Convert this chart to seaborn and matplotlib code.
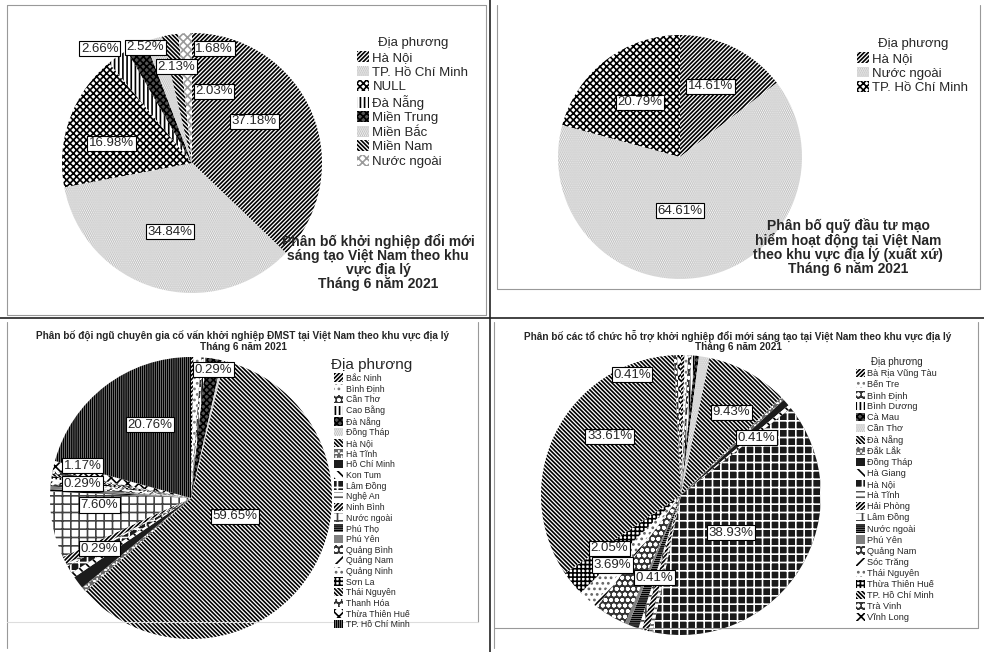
import matplotlib
matplotlib.use("Agg")
import matplotlib.pyplot as plt
import seaborn as sns
from matplotlib.patches import Patch
from matplotlib.lines import Line2D

# ---------------- data ----------------
c1_regions = ["Hà Nội", "TP. Hồ Chí Minh", "NULL", "Đà Nẵng", "Miền Trung",
              "Miền Bắc", "Miền Nam", "Nước ngoài"]
c1_values = [37.18, 34.84, 16.98, 2.66, 2.52, 2.13, 2.03, 1.68]
c1_title = "Phân bố khởi nghiệp đổi mới\nsáng tạo Việt Nam theo khu\nvực địa lý\nTháng 6 năm 2021"

c2_regions = ["Hà Nội", "Nước ngoài", "TP. Hồ Chí Minh"]
c2_values = [14.61, 64.61, 20.79]
c2_title = "Phân bố quỹ đầu tư mạo\nhiểm hoạt động tại Việt Nam\ntheo khu vực địa lý (xuất xứ)\nTháng 6 năm 2021"

c3_regions = ["Bắc Ninh", "Bình Định", "Cần Thơ", "Cao Bằng", "Đà Nẵng", "Đồng Tháp",
              "Hà Nội", "Hà Tĩnh", "Hồ Chí Minh", "Kon Tum", "Lâm Đồng", "Nghệ An",
              "Ninh Bình", "Nước ngoài", "Phú Thọ", "Phú Yên", "Quảng Bình", "Quảng Nam",
              "Quảng Ninh", "Sơn La", "Thái Nguyên", "Thanh Hóa", "Thừa Thiên Huế",
              "TP. Hồ Chí Minh"]
c3_values = [0.29, 0.88, 0.29, 0.29, 1.75, 0.29,
             59.65, 0.58, 1.46, 0.58, 0.88, 0.29,
             0.88, 7.60, 0.29, 0.29, 0.29, 0.29,
             0.29, 0.29, 0.29, 0.29, 1.17,
             20.76]
c3_title = "Phân bố đội ngũ chuyên gia cố vấn khởi nghiệp ĐMST tại Việt Nam theo khu vực địa lý\nTháng 6 năm 2021"

c4_regions = ["Bà Rịa Vũng Tàu", "Bến Tre", "Bình Định", "Bình Dương", "Cà Mau", "Cần Thơ",
              "Đà Nẵng", "Đắk Lắk", "Đồng Tháp", "Hà Giang", "Hà Nội", "Hà Tĩnh",
              "Hải Phòng", "Lâm Đồng", "Nước ngoài", "Phú Yên", "Quảng Nam", "Sóc Trăng",
              "Thái Nguyên", "Thừa Thiên Huế", "TP. Hồ Chí Minh", "Trà Vinh", "Vĩnh Long"]
c4_values = [0.41, 0.41, 0.41, 0.41, 0.41, 1.23,
             9.43, 0.41, 0.82, 0.41, 38.93, 0.41,
             0.82, 0.41, 1.23, 0.41, 3.69, 0.41,
             2.05, 2.87, 33.61, 0.41, 0.41]
c4_title = "Phân bố các tổ chức hỗ trợ khởi nghiệp đổi mới sáng tạo tại Việt Nam theo khu vực địa lý\nTháng 6 năm 2021"

legend_title = "Địa phương"

# ---------------- style ----------------
sns.set_theme(style="white")
plt.rcParams['font.family'] = ['Liberation Sans', 'DejaVu Sans']
plt.rcParams['hatch.linewidth'] = 1.2

W, H = 984, 652
fig = plt.figure(figsize=(W / 100, H / 100), dpi=100)
fig.patch.set_facecolor("white")

P = {
    'ddiag_f': ('white', 'black', '/' * 8),
    'ddiag_b': ('white', 'black', '\\' * 8),
    'dots_sparse': ('white', '#777777', '...'),
    'dots_light': ('white', '#b8b8b8', '.' * 8),
    'vlines': ('white', 'black', '|' * 4),
    'vlines_dense': ('white', 'black', '|' * 8),
    'checker': ('white', 'black', 'x' * 5),
    'checker_dark': ('#555555', 'black', 'x' * 5),
    'sparkle': ('white', '#9a9a9a', 'xxxx'),
    'stars': ('white', '#666666', '***'),
    'solid_dark': ('#1c1c1c', '#1c1c1c', ''),
    'solid_gray': ('#808080', '#808080', ''),
    'back_sparse': ('white', 'black', '\\\\\\'),
    'grid_dark': ('#1a1a1a', 'white', '++'),
    'hlines': ('white', '#555555', '---'),
    'hlines_dense': ('white', 'black', '-' * 8),
    'plus_sparse': ('white', '#444444', '++'),
    'fwd_sparse': ('white', 'black', '///'),
    'circles_dark': ('#333333', 'white', 'ooo'),
    'grid': ('white', 'black', '++++'),
    'xx': ('white', 'black', 'xxx'),
    'hdots': ('white', '#666666', '...'),
}

s1 = {"Hà Nội": 'ddiag_f', "TP. Hồ Chí Minh": 'dots_light', "NULL": 'checker',
      "Đà Nẵng": 'vlines', "Miền Trung": 'checker_dark', "Miền Bắc": 'dots_light',
      "Miền Nam": 'ddiag_b', "Nước ngoài": 'sparkle'}
s2 = {"Hà Nội": 'ddiag_f', "Nước ngoài": 'dots_light', "TP. Hồ Chí Minh": 'checker'}
s3 = {"Bắc Ninh": 'ddiag_f', "Bình Định": 'dots_sparse', "Cần Thơ": 'circles_dark',
      "Cao Bằng": 'vlines', "Đà Nẵng": 'checker_dark', "Đồng Tháp": 'dots_light',
      "Hà Nội": 'ddiag_b', "Hà Tĩnh": 'stars', "Hồ Chí Minh": 'solid_dark',
      "Kon Tum": 'back_sparse', "Lâm Đồng": 'grid_dark', "Nghệ An": 'hlines',
      "Ninh Bình": 'ddiag_f', "Nước ngoài": 'plus_sparse', "Phú Thọ": 'hlines_dense',
      "Phú Yên": 'solid_gray', "Quảng Bình": 'circles_dark', "Quảng Nam": 'fwd_sparse',
      "Quảng Ninh": 'hdots', "Sơn La": 'grid', "Thái Nguyên": 'ddiag_b',
      "Thanh Hóa": 'circles_dark', "Thừa Thiên Huế": 'xx', "TP. Hồ Chí Minh": 'vlines_dense'}
s4 = {"Bà Rịa Vũng Tàu": 'ddiag_f', "Bến Tre": 'dots_sparse', "Bình Định": 'circles_dark',
      "Bình Dương": 'vlines', "Cà Mau": 'checker_dark', "Cần Thơ": 'dots_light',
      "Đà Nẵng": 'ddiag_b', "Đắk Lắk": 'stars', "Đồng Tháp": 'solid_dark',
      "Hà Giang": 'back_sparse', "Hà Nội": 'grid_dark', "Hà Tĩnh": 'hlines',
      "Hải Phòng": 'ddiag_f', "Lâm Đồng": 'plus_sparse', "Nước ngoài": 'hlines_dense',
      "Phú Yên": 'solid_gray', "Quảng Nam": 'circles_dark', "Sóc Trăng": 'fwd_sparse',
      "Thái Nguyên": 'hdots', "Thừa Thiên Huế": 'grid', "TP. Hồ Chí Minh": 'ddiag_b',
      "Trà Vinh": 'circles_dark', "Vĩnh Long": 'xx'}

# label placements (pie units)
lp1 = {"Hà Nội": (0.48, 0.32), "TP. Hồ Chí Minh": (-0.17, -0.53), "NULL": (-0.62, 0.15),
       "Đà Nẵng": (-0.71, 0.88), "Miền Trung": (-0.36, 0.89), "Miền Bắc": (-0.12, 0.74),
       "Miền Nam": (0.17, 0.55), "Nước ngoài": (0.17, 0.88)}
lp2 = {"Hà Nội": (0.25, 0.58), "TP. Hồ Chí Minh": (-0.33, 0.45), "Nước ngoài": (0.0, -0.44)}
lp3 = {"Đồng Tháp": (0.16, 0.91), "TP. Hồ Chí Minh": (-0.29, 0.52),
       "Thừa Thiên Huế": (-0.77, 0.23), "Thái Nguyên": (-0.77, 0.10),
       "Nước ngoài": (-0.65, -0.05), "Nghệ An": (-0.65, -0.36), "Hà Nội": (0.31, -0.13)}
lp4 = {"Bà Rịa Vũng Tàu": (-0.35, 0.86), "Đà Nẵng": (0.36, 0.59), "Đắk Lắk": (0.54, 0.41),
       "TP. Hồ Chí Minh": (-0.51, 0.42), "Hà Nội": (0.36, -0.27), "Thái Nguyên": (-0.51, -0.38),
       "Quảng Nam": (-0.49, -0.50), "Hà Tĩnh": (-0.19, -0.59)}


def fx(x):
    return x / W


def fy(y):
    return 1 - y / H


def draw_pie(cx, cy, r, regions, values, smap, lpos, fs=9.5):
    ax = fig.add_axes([(cx - r) / W, (H - cy - r) / H, 2 * r / W, 2 * r / H])
    wedges, _ = ax.pie(values, startangle=90, counterclock=False, radius=1.0,
                       wedgeprops=dict(linewidth=0))
    for w, reg in zip(wedges, regions):
        fc, hc, h = P[smap[reg]]
        w.set_facecolor(fc)
        w.set_edgecolor(hc)
        w.set_hatch(h)
        w.set_linewidth(0)
    ax.set_xlim(-1, 1)
    ax.set_ylim(-1, 1)
    ax.set_aspect('equal')
    ax.axis('off')
    for reg, (x, y) in lpos.items():
        v = values[regions.index(reg)]
        ax.text(x, y, f"{v:.2f}%", ha='center', va='center', fontsize=fs,
                bbox=dict(boxstyle='square,pad=0.12', fc='white', ec='black', lw=0.8),
                zorder=5)
    return ax


def add_legend(regions, smap, x, y, fs, tfs, spacing, hsize=0.9):
    handles = []
    for reg in regions:
        fc, hc, h = P[smap[reg]]
        handles.append(Patch(facecolor=fc, edgecolor=hc, hatch=h, linewidth=0, label=reg))
    leg = fig.legend(handles=handles, loc='upper left', bbox_to_anchor=(fx(x), fy(y)),
                     bbox_transform=fig.transFigure, frameon=False, fontsize=fs,
                     title=legend_title, title_fontsize=tfs, handlelength=hsize,
                     handleheight=hsize, handletextpad=0.25, labelspacing=spacing,
                     borderpad=0.1, borderaxespad=0)
    return leg


# ---------------- panels ----------------
draw_pie(192, 163, 130, c1_regions, c1_values, s1, lp1)
add_legend(c1_regions, s1, 356, 36, 9.5, 9.5, 0.12)
fig.text(fx(378), fy(262), c1_title, ha='center', va='center', fontsize=10,
         fontweight='bold', linespacing=1.0)

draw_pie(680, 157, 122, c2_regions, c2_values, s2, lp2)
add_legend(c2_regions, s2, 856, 37, 9.5, 9.5, 0.12)
fig.text(fx(848), fy(247), c2_title, ha='center', va='center', fontsize=10,
         fontweight='bold', linespacing=1.0)

draw_pie(191, 498, 141, c3_regions, c3_values, s3, lp3)
add_legend(c3_regions, s3, 330, 357, 6.3, 11, 0.17, hsize=1.1)
fig.text(fx(243), fy(341), c3_title, ha='center', va='center', fontsize=7.2,
         fontweight='bold', linespacing=1.0)

draw_pie(681, 495, 140, c4_regions, c4_values, s4, lp4)
add_legend(c4_regions, s4, 855, 356, 6.6, 7, 0.2, hsize=1.0)
fig.text(fx(738), fy(341), c4_title, ha='center', va='center', fontsize=7.2,
         fontweight='bold', linespacing=1.0)

# ---------------- panel frames ----------------
def line(x0, y0, x1, y1, c='#999999', lw=0.8):
    fig.add_artist(Line2D([fx(x0), fx(x1)], [fy(y0), fy(y1)], color=c, lw=lw,
                          transform=fig.transFigure))

line(490, 0, 490, 652, c='#222222', lw=1.2)
line(0, 318, 984, 318, c='#222222', lw=1.2)
# top-left box
line(7, 5, 7, 315); line(7, 315, 486, 315); line(486, 5, 486, 315); line(7, 5, 486, 5)
# top-right box
line(497, 5, 497, 289); line(497, 289, 980, 289); line(980, 5, 980, 289)
# bottom-left box
line(7, 322, 7, 648); line(478, 322, 478, 622); line(7, 622, 478, 622, c='#dddddd')
# bottom-right box
line(494, 322, 494, 648); line(978, 322, 978, 628); line(494, 628, 978, 628)

fig.savefig("out.png", dpi=100, facecolor="white")
